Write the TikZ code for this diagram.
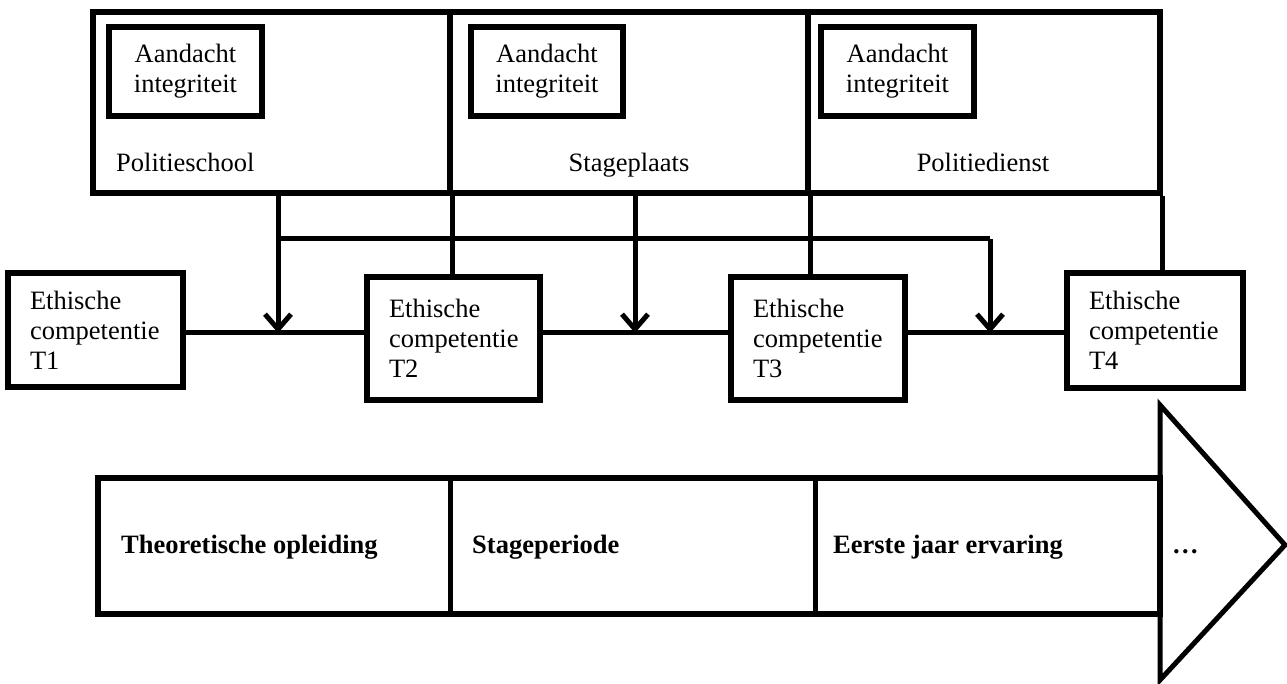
\documentclass[tikz,border=0pt]{standalone}
\usepackage{fontspec}
\setmainfont{Liberation Serif}
\usetikzlibrary{arrows.meta}
\tikzset{
  box/.style={draw=black, line width=5.5pt, rectangle, inner sep=0pt},
  tbox/.style={draw=black, line width=5.5pt, rectangle, inner xsep=22pt, inner ysep=0pt,
    align=left, anchor=center},
  lbl/.style={inner sep=0pt, font=\fontsize{26.5}{30}\selectfont},
  blbl/.style={inner sep=0pt, font=\fontsize{26.5}{30}\selectfont\bfseries},
  conn/.style={line width=5pt, draw=black},
  arr/.style={conn, -{Straight Barb[length=15pt,width=26pt,line width=5pt]}},
}
\begin{document}
\begin{tikzpicture}[x=1pt,y=-1pt]
\useasboundingbox (0,0) rectangle (1287,684);
% top context boxes
\node[box, minimum width=357pt, minimum height=181pt] (ps) at (271.5,102.5) {};
\node[box, minimum width=358pt, minimum height=181pt] (sp) at (629,102.5) {};
\node[box, minimum width=352pt, minimum height=181pt] (pd) at (984,102.5) {};
% inner boxes
\node[box, minimum width=153pt, minimum height=89pt, align=center, font=\fontsize{26.5}{30}\selectfont] (a1) at (185.5,71.5) {Aandacht\\integriteit};
\node[box, minimum width=152pt, minimum height=89pt, align=center, font=\fontsize{26.5}{30}\selectfont] (a2) at (547,71.5) {Aandacht\\integriteit};
\node[box, minimum width=153pt, minimum height=89pt, align=center, font=\fontsize{26.5}{30}\selectfont] (a3) at (897.5,71.5) {Aandacht\\integriteit};
% labels of top boxes
\node[lbl, anchor=base west] (l1) at (116,172) {Politieschool};
\node[lbl, anchor=base] (l2) at (629,172) {Stageplaats};
\node[lbl, anchor=base] (l3) at (983,172) {Politiedienst};
% competence boxes
\node[tbox, minimum width=175pt, minimum height=114pt, text width=131pt, font=\fontsize{26.5}{30}\selectfont] (t1) at (95.5,330) {\raisebox{-4pt}{}Ethische\\competentie\\T1};
\node[tbox, minimum width=173pt, minimum height=123pt, text width=129pt, font=\fontsize{26.5}{30}\selectfont] (t2) at (453.5,338.5) {Ethische\\competentie\\T2};
\node[tbox, minimum width=174pt, minimum height=123pt, text width=130pt, font=\fontsize{26.5}{30}\selectfont] (t3) at (818,338.5) {Ethische\\competentie\\T3};
\node[tbox, minimum width=176pt, minimum height=115pt, text width=132pt, font=\fontsize{26.5}{30}\selectfont] (t4) at (1155,330.5) {Ethische\\competentie\\T4};
% junction coordinates
\coordinate (j1) at (278,333);
\coordinate (j2) at (635,333);
\coordinate (j3) at (990,333);
\coordinate (h1) at (278,239);
\coordinate (h2) at (990,239);
% main timeline
\draw[conn] (t1.east |- j1) -- (t2.west |- j1);
\draw[conn] (t2.east |- j1) -- (t3.west |- j1);
\draw[conn] (t3.east |- j1) -- (t4.west |- j1);
% influences
\draw[arr] (ps.south -| j1) -- (j1);
\draw[arr] (sp.south -| j2) -- (j2);
\draw[conn] (h1) -- (h2);
\draw[arr] (h2) -- (j3);
\draw[conn] (ps.south east) -- (ps.south east |- t2.north);
\draw[conn] (sp.south east) -- (sp.south east |- t3.north);
\draw[conn] (pd.south east) -- (pd.south east |- t4.north);
% bottom phase arrow
\draw[line width=5pt, line join=miter] (1160,405) -- (1285,545) -- (1160,680) -- cycle;
\draw[line width=5.5pt, fill=white] (98,478) rectangle (1160,614);
\draw[conn] (450,478) -- (450,614);
\draw[conn] (815,478) -- (815,614);
\draw[conn] (1160,478) -- (1160,614);
\node[blbl, anchor=base west] (p1) at (121,553) {Theoretische opleiding};
\node[blbl, anchor=base west] (p2) at (472,553) {Stageperiode};
\node[blbl, anchor=base west] (p3) at (833,553) {Eerste jaar ervaring};
\node[blbl, anchor=base west] (p4) at (1172,553) {…};
\end{tikzpicture}
\end{document}
